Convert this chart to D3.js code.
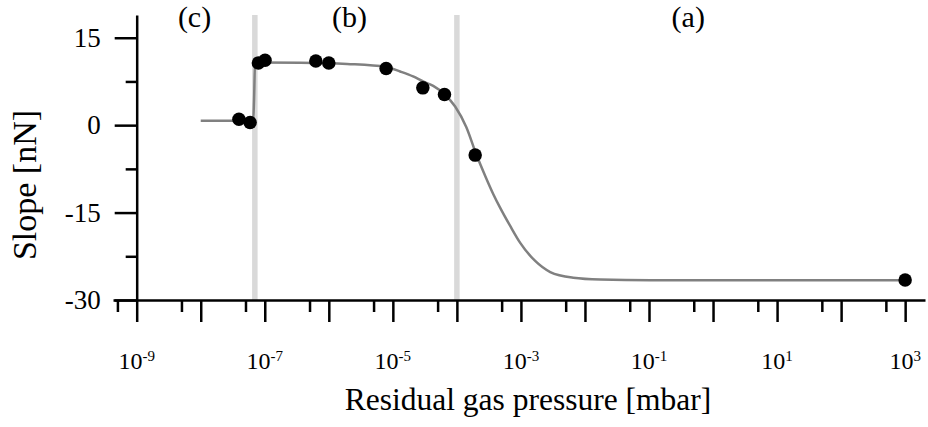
<!DOCTYPE html>
<html>
<head>
<meta charset="utf-8">
<script src="https://cdn.jsdelivr.net/npm/d3@7"></script>
<style>
    body { margin: 0; background: #fff; }
    svg { display: block; font-family: "Liberation Serif", "Times New Roman", serif; }
    .axis path, .axis line { stroke: #000; stroke-width: 2.5; }
    .axis text { fill: #000; }
</style>
</head>
<body>
<svg width="928" height="427"></svg>
<script>
// measured points (pressure in mbar, slope in nN)
const pointPressure = [3.95e-8, 5.9e-8, 7.95e-8, 1.01e-7, 6.27e-7, 1.0e-6, 7.85e-6, 2.94e-5, 6.4e-5, 1.93e-4, 1000];
const pointSlope = [1.03, 0.46, 10.68, 11.14, 11.02, 10.68, 9.72, 6.4, 5.26, -5.14, -26.57];

// fitted curve
const fitPressure = [1e-8, 6.6e-8, 6.8e-8, 7.05e-8, 8.4e-8, 3.6e-7, 1.93e-6, 7.85e-6, 1.3e-5, 2.07e-5, 2.97e-5,
    4.27e-5, 6.34e-5, 9.4e-5, 1.4e-4, 2.0e-4, 2.77e-4, 3.69e-4, 4.75e-4, 6.8e-4, 9.75e-4, 1.67e-3, 2.87e-3,
    6.56e-3, 1.73e-2, 0.105, 1000];
const fitSlope = [0.74, 0.77, 4.3, 10.6, 10.76, 10.72, 10.5, 9.99, 9.21, 8.36, 7.5,
    6.73, 5.35, 3.21, -0.31, -4.94, -8.72, -11.8, -14.2, -17.3, -20.2, -23.3, -25.2,
    -26.17, -26.48, -26.6, -26.6];

// regime boundaries and labels
const boundaryPressure = [7.0e-8, 1e-4];
const regionLabels = ['(c)', '(b)', '(a)'];
const regionPressure = [8e-9, 2.1e-6, 0.41];

const xMajorExp = d3.range(-9, 4);           // 10^-9 .. 10^3
const xLabelExp = [-9, -7, -5, -3, -1, 1, 3];
const yMajor = [-30, -15, 0, 15];
const yMinor = [-22.5, -7.5, 7.5];

const svg = d3.select('svg');

const x = d3.scaleLog()
    .domain([Math.pow(10, -9.37), Math.pow(10, 3.31)])
    .range([113, 925]);

const y = d3.scaleLinear()
    .domain([-30, 18.9])
    .range([300, 15]);

const x0 = x(1e-9);

// grey regime bands
svg.append('g')
    .selectAll('line')
    .data(boundaryPressure)
    .join('line')
    .attr('x1', d => x(d))
    .attr('x2', d => x(d))
    .attr('y1', y(18.9))
    .attr('y2', y(-30))
    .attr('stroke', '#d9d9d9')
    .attr('stroke-width', 5.5);

// x axis: major ticks every decade, minor ticks at 5x10^n
const xMajor = xMajorExp.map(e => Math.pow(10, e));
const xMinor = d3.range(-10, 3).map(e => 5 * Math.pow(10, e)).filter(v => v > x.domain()[0]);

svg.append('g')
    .attr('class', 'axis')
    .attr('transform', `translate(0,${y(-30)})`)
    .call(d3.axisBottom(x).tickValues(xMajor).tickSize(22).tickSizeOuter(0).tickFormat(''));

svg.append('g')
    .attr('class', 'axis')
    .attr('transform', `translate(0,${y(-30)})`)
    .call(d3.axisBottom(x).tickValues(xMinor).tickSize(12).tickSizeOuter(0).tickFormat(''))
    .select('.domain').remove();

const xLabels = svg.append('g')
    .selectAll('text')
    .data(xLabelExp)
    .join('text')
    .attr('x', d => x(Math.pow(10, d)))
    .attr('y', 369)
    .attr('text-anchor', 'middle')
    .attr('font-size', 24);

xLabels.append('tspan').text('10');
xLabels.append('tspan')
    .attr('dy', -8)
    .attr('font-size', 15)
    .text(d => d < 0 ? '-' + Math.abs(d) : d);

// y axis
svg.append('g')
    .attr('class', 'axis')
    .attr('transform', `translate(${x0},0)`)
    .call(d3.axisLeft(y).tickValues(yMajor).tickSize(22).tickPadding(14).tickSizeOuter(0)
        .tickFormat(d => String(d)))
    .attr('font-family', null)
    .attr('font-size', 27);

svg.append('g')
    .attr('class', 'axis')
    .attr('transform', `translate(${x0},0)`)
    .call(d3.axisLeft(y).tickValues(yMinor).tickSize(11).tickFormat(''))
    .select('.domain').remove();

// axis titles
svg.append('text')
    .attr('x', 528)
    .attr('y', 410)
    .attr('text-anchor', 'middle')
    .attr('font-size', 31.5)
    .text('Residual gas pressure [mbar]');

svg.append('text')
    .attr('transform', 'translate(36,185) rotate(-90)')
    .attr('text-anchor', 'middle')
    .attr('font-size', 34)
    .text('Slope [nN]');

// region labels
svg.append('g')
    .selectAll('text')
    .data(regionLabels)
    .join('text')
    .attr('x', (d, i) => x(regionPressure[i]))
    .attr('y', 27)
    .attr('text-anchor', 'middle')
    .attr('font-size', 30)
    .text(d => d);

// fit curve
const fit = fitPressure.map((p, i) => [p, fitSlope[i]]);
svg.append('path')
    .datum(fit)
    .attr('fill', 'none')
    .attr('stroke', '#808080')
    .attr('stroke-width', 2.5)
    .attr('d', d3.line()
        .x(d => x(d[0]))
        .y(d => y(d[1]))
        .curve(d3.curveMonotoneX));

// data points
svg.append('g')
    .selectAll('circle')
    .data(pointPressure.map((p, i) => [p, pointSlope[i]]))
    .join('circle')
    .attr('cx', d => x(d[0]))
    .attr('cy', d => y(d[1]))
    .attr('r', 6.75)
    .attr('fill', '#000');
</script>
</body>
</html>
